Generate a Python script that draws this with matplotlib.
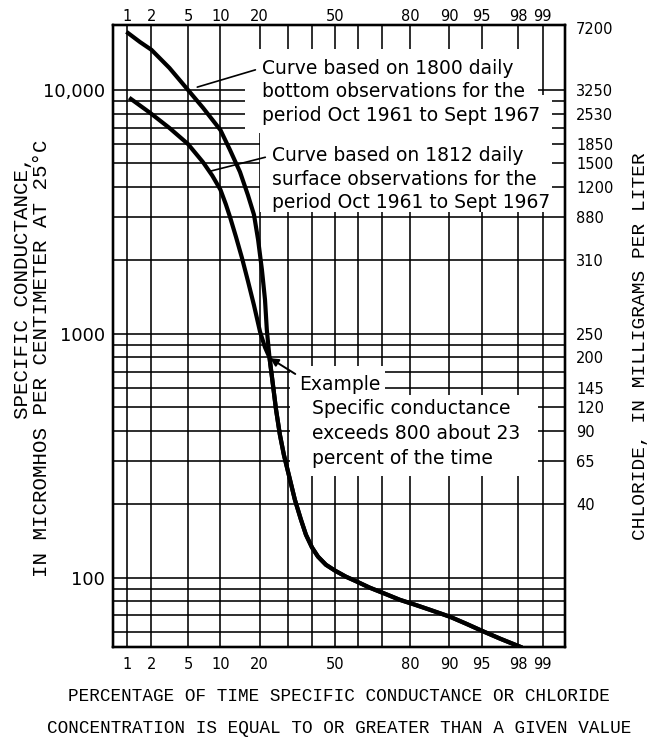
import math
import numpy as np
import matplotlib
matplotlib.use("Agg")
import matplotlib.pyplot as plt
from matplotlib.patches import Rectangle
from matplotlib.ticker import NullLocator

# probability grid (percent of time equalled or exceeded)
grid_pct = [1, 2, 5, 10, 20, 30, 40, 50, 60, 70, 80, 90, 95, 98, 99]
pct_labels = ["1", "2", "5", "10", "20", "", "", "50", "", "", "80", "90", "95", "98", "99"]

# specific conductance grid lines (micromhos)
sc_grid = [60, 70, 80, 90, 100, 200, 300, 400, 500, 600, 700, 800, 900,
           1000, 2000, 3000, 4000, 5000, 6000, 7000, 8000, 9000, 10000]
sc_labels = {100: "100", 1000: "1000", 10000: "10,000"}

# chloride scale on the right, placed at specific conductance values
chloride_sc = [18000, 10000, 8000, 6000, 5000, 4000, 3000, 2000, 1000, 800, 600, 500, 400, 300, 200]
chloride_labels = ["7200", "3250", "2530", "1850", "1500", "1200", "880", "310",
                   "250", "200", "145", "120", "90", "65", "40"]

# bottom observations (upper curve)
bottom_pct = [1.03, 1.46, 2, 3.2, 5, 7.0, 10, 12.0, 14.4, 16.5, 18.25, 19.5, 20.7, 21.7, 22.3, 23.2]
bottom_sc = [17100, 15700, 14600, 12300, 10000, 8440, 6850, 5680, 4610, 3710, 3080, 2430,
             1830, 1380, 1040, 800]

# surface observations (lower curve)
surface_pct = [1.12, 1.93, 3.2, 5, 7.0, 8.5, 10, 11.1, 12.0, 13.4, 14.9, 16.5, 18.25, 20.1, 21.7, 23.2]
surface_sc = [9180, 8050, 6980, 6000, 5050, 4450, 3900, 3400, 3020, 2500, 2050, 1650, 1310,
              1020, 880, 800]

# both curves run together below about 800
tail_pct = [24.4, 25.5, 26.9, 28.4, 30.3, 32.7, 35.2, 37.3, 39.9, 42.5, 46.0, 50, 54.9, 59.7,
            65.2, 71.2, 76.6, 81.5, 85.6, 90.1, 92.9, 95.0, 96.8, 98.1]
tail_sc = [618, 489, 386, 319, 264, 209, 173, 150, 133, 122, 113, 107, 101, 96.4,
           91, 86, 81.2, 77.5, 73.9, 69.2, 64.8, 60.6, 56.2, 52.1]

example_pct, example_sc = 23, 800
leader2_pct = 8

# normal probability scale (Acklam's inverse normal approximation)
A = [-3.969683028665376e+01, 2.209460984245205e+02, -2.759285104469687e+02,
     1.383577518672690e+02, -3.066479806614716e+01, 2.506628277459239e+00]
B = [-5.447609879822406e+01, 1.615858368580409e+02, -1.556989798598866e+02,
     6.680131188771972e+01, -1.328068155288572e+01]
C = [-7.784894002430293e-03, -3.223964580411365e-01, -2.400758277161838e+00,
     -2.549732539343734e+00, 4.374664141464968e+00, 2.938163982698783e+00]
D = [7.784695709041462e-03, 3.224671290700398e-01, 2.445134137142996e+00,
     3.754408661907416e+00]


def _tail(q):
    num = ((((C[0] * q + C[1]) * q + C[2]) * q + C[3]) * q + C[4]) * q + C[5]
    den = (((D[0] * q + D[1]) * q + D[2]) * q + D[3]) * q + 1
    return num / den


def probit(pct):
    pct = np.asarray(pct, dtype=float)
    shape = pct.shape
    p = np.clip(np.atleast_1d(pct).ravel() / 100.0, 1e-9, 1 - 1e-9)
    z = np.empty_like(p)
    lo = p < 0.02425
    hi = p > 1 - 0.02425
    mid = ~(lo | hi)
    z[lo] = _tail(np.sqrt(-2 * np.log(p[lo])))
    z[hi] = -_tail(np.sqrt(-2 * np.log(1 - p[hi])))
    q = p[mid] - 0.5
    r = q * q
    num = (((((A[0] * r + A[1]) * r + A[2]) * r + A[3]) * r + A[4]) * r + A[5]) * q
    den = ((((B[0] * r + B[1]) * r + B[2]) * r + B[3]) * r + B[4]) * r + 1
    z[mid] = num / den
    return z.reshape(shape)


_erf = np.vectorize(math.erf, otypes=[float])


def inv_probit(z):
    z = np.asarray(z, dtype=float)
    return 50.0 * (1 + _erf(z / math.sqrt(2)))


letter = "DejaVu Sans"
typewriter = "Liberation Mono"

fig = plt.figure(figsize=(6.54, 7.51), dpi=100)
ax = fig.add_axes([0.1728, 0.1385, 0.6911, 0.8282])
ax.set_xscale("function", functions=(probit, inv_probit))
ax.set_yscale("log")
ax.set_xlim(0.65, 99.5)
ax.set_ylim(52, 18450)

ax.set_xticks(grid_pct)
ax.set_xticklabels(pct_labels, family=letter, fontsize=10.5)
ax.set_yticks(sc_grid)
ax.set_yticklabels([sc_labels.get(v, "") for v in sc_grid], family=letter, fontsize=13)
ax.xaxis.set_minor_locator(NullLocator())
ax.yaxis.set_minor_locator(NullLocator())
ax.tick_params(length=0)
ax.tick_params(axis="x", pad=7)
ax.tick_params(axis="y", pad=6)
ax.grid(True, color="black", lw=1.15)
ax.set_axisbelow(True)
for s in ax.spines.values():
    s.set_linewidth(1.6)

# top percentage labels
top = ax.twiny()
top.set_xscale("function", functions=(probit, inv_probit))
top.set_xlim(ax.get_xlim())
top.set_xticks(grid_pct)
top.set_xticklabels(pct_labels, family=letter, fontsize=10.5)
top.xaxis.set_minor_locator(NullLocator())
top.tick_params(length=0, pad=1)

# chloride scale
right = ax.twinx()
right.set_yscale("log")
right.set_ylim(ax.get_ylim())
right.set_yticks(chloride_sc)
right.set_yticklabels(chloride_labels, family=letter, fontsize=10.5)
right.yaxis.set_minor_locator(NullLocator())
right.tick_params(length=0, pad=8)
for t in (top, right):
    for s in t.spines.values():
        s.set_linewidth(1.6)

# white areas behind the notes, as on the original drawing
for x0, y0, x1, y1 in [(0.292, 0.826, 0.940, 0.961), (0.940, 0.826, 0.971, 0.887),
                       (0.325, 0.699, 0.971, 0.826),
                       (0.392, 0.405, 0.602, 0.452), (0.392, 0.275, 0.940, 0.405)]:
    ax.add_patch(Rectangle((x0, y0), x1 - x0, y1 - y0, transform=ax.transAxes,
                           facecolor="white", edgecolor="none", zorder=1))

ax.plot(bottom_pct + tail_pct, bottom_sc + tail_sc, color="black", lw=3,
        solid_joinstyle="round", zorder=3)
ax.plot(surface_pct + tail_pct, surface_sc + tail_sc, color="black", lw=3,
        solid_joinstyle="round", zorder=3)

note_kw = dict(family=letter, fontsize=13.5, linespacing=1.3, ha="left", va="top",
               textcoords="axes fraction", xycoords="data", zorder=4)

ax.annotate("Curve based on 1800 daily\nbottom observations for the\nperiod Oct 1961 to Sept 1967",
            xy=(bottom_pct[4], bottom_sc[4]), xytext=(0.330, 0.946),
            arrowprops=dict(arrowstyle="-", lw=1.2, color="black", relpos=(0, 0.86),
                            shrinkA=3, shrinkB=7), **note_kw)

z2 = probit(leader2_pct)
sc2 = 10 ** np.interp(z2, probit(surface_pct), np.log10(surface_sc))
ax.annotate("Curve based on 1812 daily\nsurface observations for the\nperiod Oct 1961 to Sept 1967",
            xy=(leader2_pct, sc2), xytext=(0.352, 0.805),
            arrowprops=dict(arrowstyle="-", lw=1.2, color="black", relpos=(0, 0.86),
                            shrinkA=3, shrinkB=0), **note_kw)

ax.annotate("Example", xy=(example_pct, example_sc), xytext=(0.412, 0.438),
            arrowprops=dict(arrowstyle="-|>", lw=1.4, color="black", relpos=(0, 0.9),
                            mutation_scale=12, shrinkA=1, shrinkB=1), **note_kw)
ax.text(0.440, 0.398, "Specific conductance\nexceeds %d about %d\npercent of the time" % (example_sc, example_pct),
        transform=ax.transAxes, family=letter, fontsize=13.5, linespacing=1.4,
        ha="left", va="top", zorder=4)

# axis titles
ax.set_xlabel("PERCENTAGE OF TIME SPECIFIC CONDUCTANCE OR CHLORIDE\n"
              "CONCENTRATION IS EQUAL TO OR GREATER THAN A GIVEN VALUE",
              family=typewriter, fontsize=12.7, linespacing=2.1, labelpad=12)
fig.text(0.034, 0.617, "SPECIFIC CONDUCTANCE,", family=typewriter, fontsize=15,
         rotation=90, ha="center", va="center")
fig.text(0.064, 0.523, "IN MICROMHOS PER CENTIMETER AT 25°C", family=typewriter, fontsize=15,
         rotation=90, ha="center", va="center")
fig.text(0.979, 0.539, "CHLORIDE, IN MILLIGRAMS PER LITER", family=typewriter, fontsize=14,
         rotation=90, ha="center", va="center")

fig.savefig("out.png", dpi=100, facecolor="white")
